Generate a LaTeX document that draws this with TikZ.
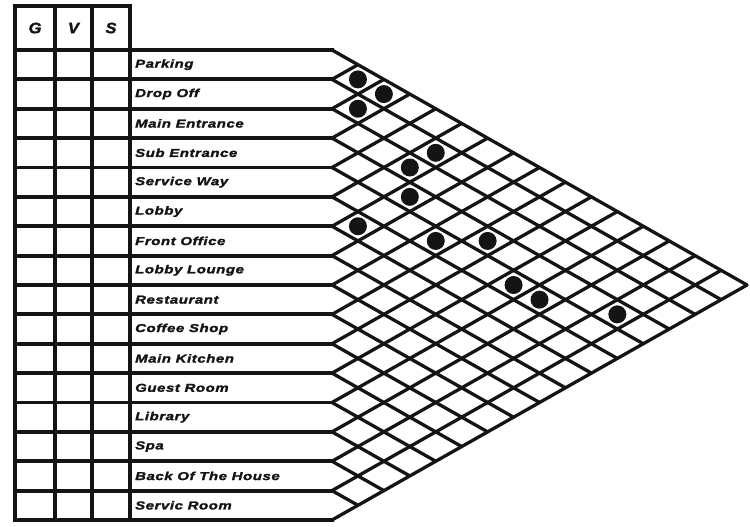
\documentclass[tikz,border=0pt]{standalone}
\usepackage{fontspec}
\newfontfamily\lblfont[FakeStretch=1.3,LetterSpace=5,FakeBold=2]{Liberation Sans Bold Italic}
\newfontfamily\hdrfont[FakeStretch=1.1,FakeBold=2]{Liberation Sans Bold Italic}
\definecolor{ink}{HTML}{141414}
\begin{document}
\begin{tikzpicture}[x=1pt,y=-1pt,line join=round,
  tabline/.style={draw=ink,line width=3.8pt,line cap=rect},
  gridline/.style={draw=ink,line width=3.3pt,line cap=round},
  lbl/.style={anchor=west,inner sep=0pt,font=\lblfont\fontsize{11.5}{12}\selectfont,text=ink},
  hdr/.style={inner sep=0pt,font=\hdrfont\fontsize{15}{16}\selectfont,text=ink},
  dot/.style={circle,fill=ink,draw=none,minimum size=18pt,inner sep=0pt}]
\useasboundingbox (0,0) rectangle (750,527);
\def\H{29.375}
\def\hw{25.94}
\def\xe{332}
% boundary coordinates
\foreach \k in {0,...,16}{
  \coordinate (b\k) at (\xe,{50+\k*\H});
  \coordinate (l\k) at (15,{50+\k*\H});
}
\coordinate (top0) at (15,6);
\coordinate (top3) at (130,6);
% header and table
\draw[tabline] (top0) -- (top3);
\foreach \x in {15,55,92,130}{
  \coordinate (vt) at (\x,6);
  \coordinate (vb) at (\x,{50+16*\H});
  \draw[tabline] (vt) -- (vb);
}
\foreach \k in {0,...,16}{
  \draw[tabline] (l\k) -- (b\k);
}
% diagonals of the matrix
\foreach \k in {0,...,15}{
  \coordinate (de\k) at ({\xe+(16-\k)*\hw},{50+\k*\H+(16-\k)*\H/2});
  \draw[gridline] (b\k) -- (de\k);
}
\foreach \k in {1,...,16}{
  \coordinate (ue\k) at ({\xe+\k*\hw},{50+\k*\H-\k*\H/2});
  \draw[gridline] (b\k) -- (ue\k);
}
% header letters
\node[hdr] (hG) at (35,28) {G};
\node[hdr] (hV) at (73.5,28) {V};
\node[hdr] (hS) at (111,28) {S};
% row labels
\foreach \i/\t in {1/Parking,2/Drop Off,3/Main Entrance,4/Sub Entrance,5/Service Way,6/Lobby,7/Front Office,8/Lobby Lounge,9/Restaurant,10/Coffee Shop,11/Main Kitchen,12/Guest Room,13/Library,14/Spa,15/Back Of The House,16/Servic Room}{
  \node[lbl] (r\i) at (135,{50+(\i-0.5)*\H}) {\t};
}
% relationship dots
\foreach \i/\j [count=\n] in {1/2,1/3,2/3,2/6,3/6,4/7,6/7,5/9,4/10,5/12,5/13,4/15}{
  \node[dot] (d\n) at ({\xe+(\j-\i)*\hw},{50+(\i+\j-1)*\H/2}) {};
}
\end{tikzpicture}
\end{document}
